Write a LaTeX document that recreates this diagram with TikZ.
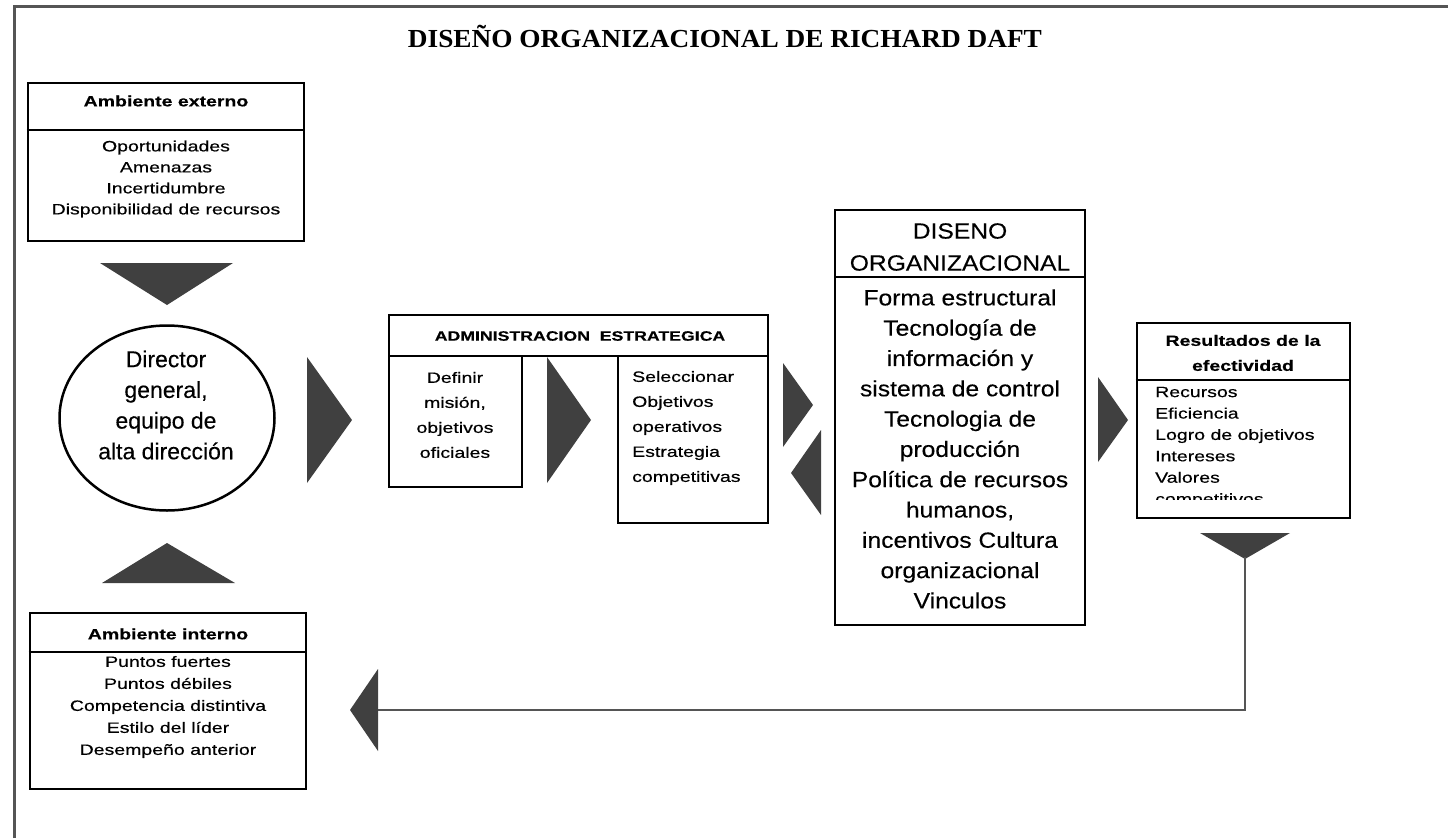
\documentclass[tikz,border=0pt]{standalone}
\usepackage{fontspec}
\setmainfont{Liberation Sans}
\newfontfamily\bxf[FakeStretch=1.3,FakeBold=0.4]{Liberation Sans}
\newfontfamily\dsf[FakeStretch=1.12,FakeBold=0.3]{Liberation Sans}
\newfontfamily\elf[FakeBold=0.3]{Liberation Sans}
\newfontfamily\ttlf[FakeStretch=1.05]{Liberation Serif}
\usetikzlibrary{shapes.geometric}
\definecolor{tricol}{HTML}{404040}
\definecolor{framecol}{HTML}{555555}
\begin{document}
\begin{tikzpicture}[x=1pt,y=-1pt,
  thickbox/.style={draw=black,line width=2.8pt,inner sep=0pt},
  thinbox/.style={draw=black,line width=1.6pt,inner sep=0pt},
  divline/.style={draw=black,line width=1.6pt},
  boxtext/.style={inner sep=0pt,align=center,font=\bxf\fontsize{15}{21}\selectfont},
  boxhead/.style={inner sep=0pt,align=center,font=\bxf\bfseries\fontsize{15}{25}\selectfont},
  tri/.style={fill=tricol,draw=none},
  fb/.style={draw=framecol,line width=1.8pt}]
\useasboundingbox (0,0) rectangle (1448,838);
% outer frame (cut off at right and bottom)
\draw[framecol,line width=3pt] (14,838) -- (14,6) -- (1448,6);
% title
\node[inner sep=0pt,font=\ttlf\bfseries\fontsize{26}{30}\selectfont] (title) at (725,36) {DISEÑO ORGANIZACIONAL DE RICHARD DAFT};
% Ambiente externo
\node[thickbox,minimum width=276pt,minimum height=158pt] (ext) at (166,162) {};
\draw[divline] (ext.west |- 0,130) -- (ext.east |- 0,130);
\node[boxhead] (exth) at (166,101) {Ambiente externo};
\node[boxtext] (extl) at (166,179) {Oportunidades\\Amenazas\\Incertidumbre\\Disponibilidad de recursos};
% down triangle
\fill[tri] (100,263) -- (233,263) -- (167,305) -- cycle;
% ellipse
\node[draw=black,line width=2.5pt,ellipse,minimum width=215pt,minimum height=185pt,inner sep=0pt] (dir) at (167,418) {};
\node[inner sep=0pt,align=center,font=\elf\fontsize{23}{30.7}\selectfont] (dirt) at (166,405) {Director\\general,\\equipo de\\alta dirección};
% up triangle
\fill[tri] (102,583) -- (235,583) -- (167,543) -- cycle;
% Ambiente interno
\node[thickbox,minimum width=276pt,minimum height=176pt] (int) at (168,701) {};
\draw[divline] (int.west |- 0,652) -- (int.east |- 0,652);
\node[boxhead] (inth) at (168,634) {Ambiente interno};
\node[boxtext,font=\bxf\fontsize{15}{22}\selectfont] (intl) at (168,707) {Puntos fuertes\\Puntos débiles\\Competencia distintiva\\Estilo del líder\\Desempeño anterior};
% right triangle from director
\fill[tri] (307,357) -- (307,483) -- (352,420) -- cycle;
% Administracion estrategica
\node[thinbox,minimum width=379pt,minimum height=41pt] (adm) at (578.5,335.5) {};
\node[inner sep=0pt,font=\bxf\bfseries\fontsize{13.6}{16}\selectfont] (admt) at (580,336) {ADMINISTRACION\ \ ESTRATEGICA};
\node[thinbox,minimum width=133pt,minimum height=131pt] (def) at (455.5,421.5) {};
\node[boxtext,font=\bxf\fontsize{15}{25}\selectfont] (deft) at (455,415) {Definir\\misión,\\objetivos\\oficiales};
\fill[tri] (547,357) -- (547,483) -- (591,420) -- cycle;
\node[thinbox,minimum width=150pt,minimum height=167pt] (sel) at (693,439.5) {};
\node[boxtext,align=left,anchor=west,font=\bxf\fontsize{15}{25}\selectfont] (selt) at (632,428) {Seleccionar\\Objetivos\\operativos\\Estrategia\\competitivas};
% double triangles
\fill[tri] (783,363) -- (783,447) -- (813,405) -- cycle;
\fill[tri] (821,430) -- (821,515) -- (791,473) -- cycle;
% Diseno organizacional
\node[thinbox,line width=1.8pt,minimum width=250pt,minimum height=415pt] (dis) at (960,417.5) {};
\draw[divline] (dis.west |- 0,277) -- (dis.east |- 0,277);
\node[inner sep=0pt,align=center,font=\dsf\fontsize{22}{32}\selectfont] (dish) at (960,247) {DISENO\\ORGANIZACIONAL};
\node[inner sep=0pt,align=center,font=\dsf\fontsize{22}{30.3}\selectfont] (disl) at (960,449) {Forma estructural\\Tecnología de\\información y\\sistema de control\\Tecnologia de\\producción\\Política de recursos\\humanos,\\incentivos Cultura\\organizacional\\Vinculos};
% right triangle to resultados
\fill[tri] (1098,377) -- (1098,462) -- (1128,420) -- cycle;
% Resultados
\node[thickbox,minimum width=213pt,minimum height=195pt] (res) at (1243.5,420.5) {};
\draw[divline] (res.west |- 0,380) -- (res.east |- 0,380);
\node[boxhead] (resh) at (1243,353) {Resultados de la\\efectividad};
\begin{scope}
\clip (1140,382) rectangle (1347,499);
\node[boxtext,align=left,anchor=west,font=\bxf\fontsize{15}{21.4}\selectfont] (resl) at (1155,447) {Recursos\\Eficiencia\\Logro de objetivos\\Intereses\\Valores\\competitivos};
\end{scope}
% feedback
\fill[tri] (1200,533) -- (1290,533) -- (1245,559) -- cycle;
\coordinate (fbtop) at (1245,557);
\coordinate (fbcorner) at (1245,710);
\coordinate (fbend) at (376,710);
\draw[fb] (fbtop) -- (fbcorner) -- (fbend);
\fill[tri] (378,669) -- (378,751) -- (350,710) -- cycle;
\end{tikzpicture}
\end{document}
